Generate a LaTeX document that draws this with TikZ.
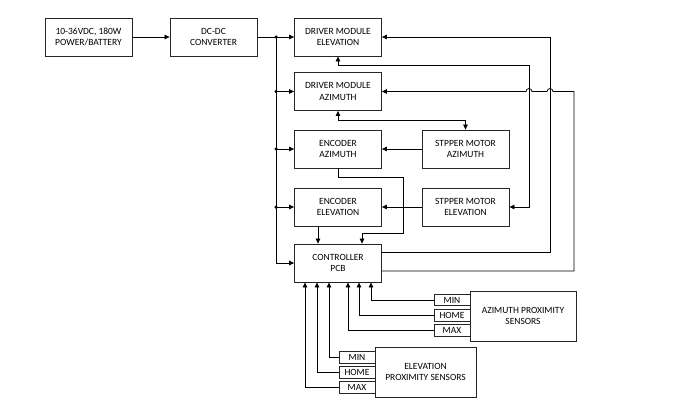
\documentclass[tikz,border=0pt]{standalone}
\usepackage{fontspec}
\setmainfont{Carlito}
\usetikzlibrary{arrows.meta}
\begin{document}
\begin{tikzpicture}[x=1pt,y=-1pt,
  box/.style={draw=black!85, line width=0.8pt, minimum width=87pt, minimum height=38pt, inner sep=0pt, align=center, font=\fontsize{9.5}{11.5}\selectfont},
  tag/.style={draw=black!85, line width=0.8pt, minimum width=36pt, minimum height=11.5pt, inner sep=0pt, font=\fontsize{9.5}{11}\selectfont},
  bigbox/.style={draw=black!85, line width=0.8pt, minimum height=50pt, inner sep=0pt, align=center, font=\fontsize{9.5}{11.5}\selectfont},
  conn/.style={line width=0.75pt, -{Triangle[length=5pt,width=4.5pt]}},
  both/.style={line width=0.75pt, {Triangle[length=5pt,width=4.5pt]}-{Triangle[length=5pt,width=4.5pt]}},
  dot/.style={circle, fill=black, inner sep=0pt, minimum size=3.5pt}]
\useasboundingbox (0,0) rectangle (700,410);

% boxes
\node[box] (pow) at (88.5,37) {10-36VDC, 180W\\POWER/BATTERY};
\node[box] (dc)  at (213.5,37) {DC-DC\\CONVERTER};
\node[box] (dme) at (338,37) {DRIVER MODULE\\ELEVATION};
\node[box] (dma) at (338,91.5) {DRIVER MODULE\\AZIMUTH};
\node[box] (ea)  at (338,149) {ENCODER\\AZIMUTH};
\node[box] (sa)  at (465.5,149) {STPPER MOTOR\\AZIMUTH};
\node[box] (ee)  at (338,207) {ENCODER\\ELEVATION};
\node[box] (se)  at (465.5,207) {STPPER MOTOR\\ELEVATION};
\node[box] (ctl) at (338,263) {CONTROLLER\\PCB};

% sensors
\node[bigbox, minimum width=106pt] (azs) at (523,316) {AZIMUTH PROXIMITY\\SENSORS};
\node[tag] (amin)  at (452,300) {MIN};
\node[tag] (ahome) at (452,315.5) {HOME};
\node[tag] (amax)  at (452,330.5) {MAX};
\node[bigbox, minimum width=101pt] (els) at (425.5,372) {ELEVATION\\PROXIMITY SENSORS};
\node[tag] (emin)  at (357,357.5) {MIN};
\node[tag] (ehome) at (357,372.5) {HOME};
\node[tag] (emax)  at (357,387.5) {MAX};

% routing columns
\coordinate (bus) at (276,37);
\coordinate (c529) at (529,0);
\coordinate (c550) at (550,0);
\coordinate (c574) at (574,0);

% power chain
\draw[conn] (pow) -- (dc);
\draw[conn] (dc) -- (dme);
\draw[conn] (bus) |- (ctl.west);
\draw[conn] (bus |- dma.west) -- (dma.west);
\draw[conn] (bus |- ea.west) -- (ea.west);
\draw[conn] (bus |- ee.west) -- (ee.west);
\node[dot] at (bus) {};
\node[dot] at (bus |- dma.west) {};
\node[dot] at (bus |- ea.west) {};
\node[dot] at (bus |- ee.west) {};

% drivers to steppers
\draw[both] (dme.south) -- ([yshift=-9pt]dme.south) -| (c529 |- se.east) -- (se.east);
\draw[both] (dma.south) -- ([yshift=-9pt]dma.south) -| (sa.north);

% steppers to encoders
\draw[conn] (sa.west) -- (ea.east);
\draw[conn] (se.west) -- (ee.east);

% encoders to controller
\draw[conn] (ea.south) -- ++(0,9) -| ([xshift=65pt,yshift=10pt]ctl.north) -| ([xshift=24pt]ctl.north);
\draw[conn] ([xshift=-20pt]ee.south) -- ([xshift=-20pt]ctl.north);

% controller to drivers
\draw[conn] ([yshift=11pt]ctl.east) -| (c550 |- dme.east) -- (dme.east);
\draw[conn] ([yshift=-8pt]ctl.east) -| (c574 |- dma.east) -- (553,91.5)
  arc[start angle=0, end angle=-180, radius=3] -- (532,91.5)
  arc[start angle=0, end angle=-180, radius=3] -- (dma.east);

% sensors to controller
\draw[conn] (amin.west)  -| ([xshift=33pt]ctl.south);
\draw[conn] (ahome.west) -| ([xshift=21pt]ctl.south);
\draw[conn] (amax.west)  -| ([xshift=10pt]ctl.south);
\draw[conn] (emin.west)  -| ([xshift=-9pt]ctl.south);
\draw[conn] (ehome.west) -| ([xshift=-21pt]ctl.south);
\draw[conn] (emax.west)  -| ([xshift=-33pt]ctl.south);
\end{tikzpicture}
\end{document}
